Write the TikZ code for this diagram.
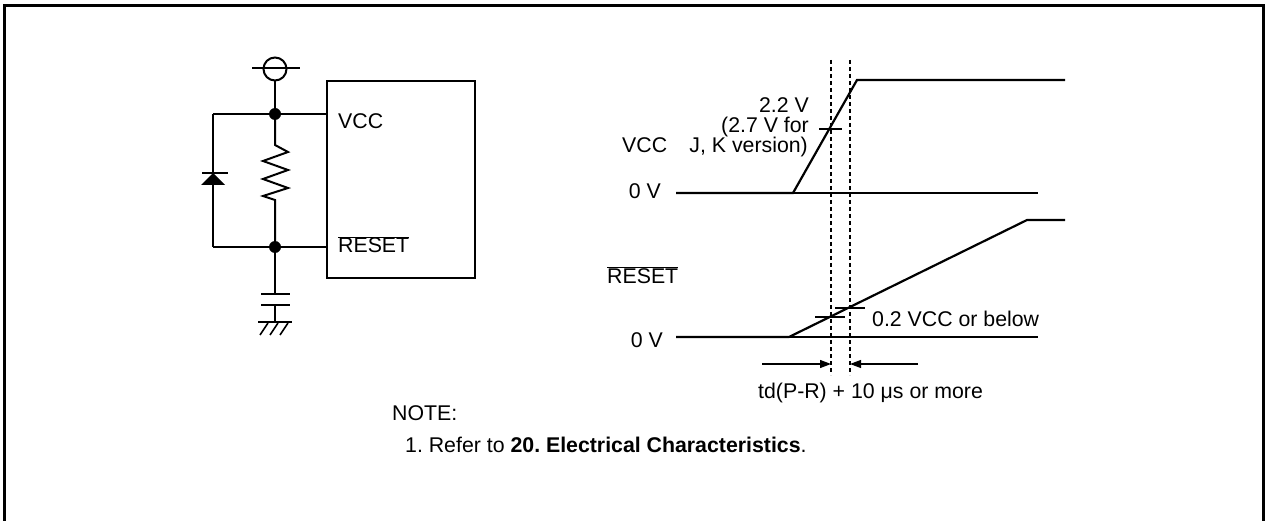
\documentclass[tikz,border=0pt]{standalone}
\usepackage{fontspec}
\setmainfont{Liberation Sans}
\usetikzlibrary{arrows.meta}
\newcommand\ovltext[1]{$\overline{\hbox{#1}}$}
\frenchspacing
\begin{document}
\begin{tikzpicture}[x=1pt,y=-1pt,
  lbl/.style={inner sep=0pt,font=\fontsize{21.3}{21.3}\selectfont},
  wire/.style={line width=2pt},
  sig/.style={line width=2.2pt},
  thinl/.style={line width=1.2pt},
  guide/.style={line width=1.4pt,dash pattern=on 4pt off 3pt},
  dimarrow/.style={line width=1.2pt,-{Triangle[length=11pt,width=8pt]}},
  dot/.style={circle,fill=black,inner sep=0pt,minimum size=12pt}]
\useasboundingbox (0,0) rectangle (1265,521);
% frame
\draw[line width=3pt] (4,521) -- (4,6) -- (1263,6) -- (1263,521);

% ---------- circuit ----------
\node[draw,line width=2pt,minimum size=23pt,circle,inner sep=0pt] (src) at (275,69) {};
\coordinate (srcL) at (252,68);
\coordinate (srcR) at (300,68);
\draw[wire] (srcL) -- (srcR);
\node[dot] (n1) at (275,114) {};
\node[dot] (n2) at (275,247) {};
\node[draw,line width=2pt,minimum width=148pt,minimum height=197pt,anchor=north west,inner sep=0pt] (ic) at (326,80) {};
\coordinate (d1) at (213,114);
\coordinate (d2) at (213,247);
\draw[wire] (src.south) -- (n1);
\draw[wire] (d1) -- (n1) -- (n1 -| ic.west);
\draw[wire] (d2) -- (n2) -- (n2 -| ic.west);
\draw[wire] (d1) -- (d2);
% diode
\coordinate (dbar) at (213,173);
\draw[line width=2pt] (202,173) -- (228,173);
\fill (213,173) -- (225,185) -- (201,185) -- cycle;
% resistor
\coordinate (r1) at (275,145);
\coordinate (r2) at (275,200);
\draw[wire,line join=miter] (n1) -- (r1) -- (288,152) -- (263,161) -- (288,170) -- (263,179) -- (288,188) -- (263,196) -- (r2) -- (n2);
% capacitor
\coordinate (c1) at (275,294);
\coordinate (c2) at (275,305);
\coordinate (gnd) at (275,322);
\draw[wire] (n2) -- (c1);
\draw[wire] (261,294) -- (290,294);
\draw[wire] (261,305) -- (290,305);
\draw[wire] (c2) -- (gnd);
\draw[wire] (258,322) -- (292,322);
\draw[line width=1.6pt] (268,323) -- (260,335) (278,323) -- (270,335) (288,323) -- (280,335);
\node[lbl,anchor=base west] (tvcc) at (338,129) {VCC};
\node[lbl,anchor=base west] (trst) at (338,253) {\ovltext{RESET}};

% ---------- timing ----------
\coordinate (v0a) at (676,193);
\coordinate (v0b) at (1038,193);
\coordinate (v1) at (793,193);
\coordinate (v2) at (857,80);
\coordinate (v3) at (1065,80);
\draw[thinl] (v0a) -- (v0b);
\draw[sig,line join=miter] (v0a) -- (v1) -- (v2) -- (v3);
\coordinate (r0a) at (676,337);
\coordinate (r0b) at (1038,337);
\coordinate (rr1) at (789,337);
\coordinate (rr2) at (1027,220);
\coordinate (rr3) at (1065,220);
\draw[thinl] (r0a) -- (r0b);
\draw[sig,line join=miter] (r0a) -- (rr1) -- (rr2) -- (rr3);
% guide lines
\coordinate (g1t) at (831,60);
\coordinate (g1b) at (831,375);
\coordinate (g2t) at (850,60);
\coordinate (g2b) at (850,375);
\draw[guide] (g1t) -- (g1b);
\draw[guide] (g2t) -- (g2b);
% ticks
\draw[thinl] (819,129) -- (842,129);
\draw[thinl] (815,317) -- (845,317);
\draw[thinl] (835,308) -- (865,308);
% arrows
\coordinate (a1s) at (762,364);
\coordinate (a1e) at (831,364);
\coordinate (a2s) at (918,364);
\coordinate (a2e) at (850,364);
\draw[dimarrow] (a1s) -- (a1e);
\draw[dimarrow] (a2s) -- (a2e);
% labels
\node[lbl,anchor=base east] (l22) at (809,113) {2.2 V};
\node[lbl,anchor=base east] (l27) at (809,133) {(2.7 V for};
\node[lbl,anchor=base east] (ljk) at (808,153) {J, K version)};
\node[lbl,anchor=base west] (lvcc) at (622,153) {VCC};
\node[lbl,anchor=base east] (l0v1) at (661,199) {0 V};
\node[lbl,anchor=base west] (lrst) at (607,283) {\ovltext{RESET}};
\node[lbl,anchor=base east] (l0v2) at (663,347) {0 V};
\node[lbl,anchor=base west] (l02) at (872,326) {0.2 VCC or below};
\node[lbl,anchor=base west] (ltd) at (758,398) {td(P-R) + 10 μs or more};
\node[lbl,anchor=base west] (lnote) at (392,420) {NOTE:};
\node[lbl,anchor=base west] (lref) at (405,452) {1. Refer to \textbf{20. Electrical Characteristics}.};
\end{tikzpicture}
\end{document}
